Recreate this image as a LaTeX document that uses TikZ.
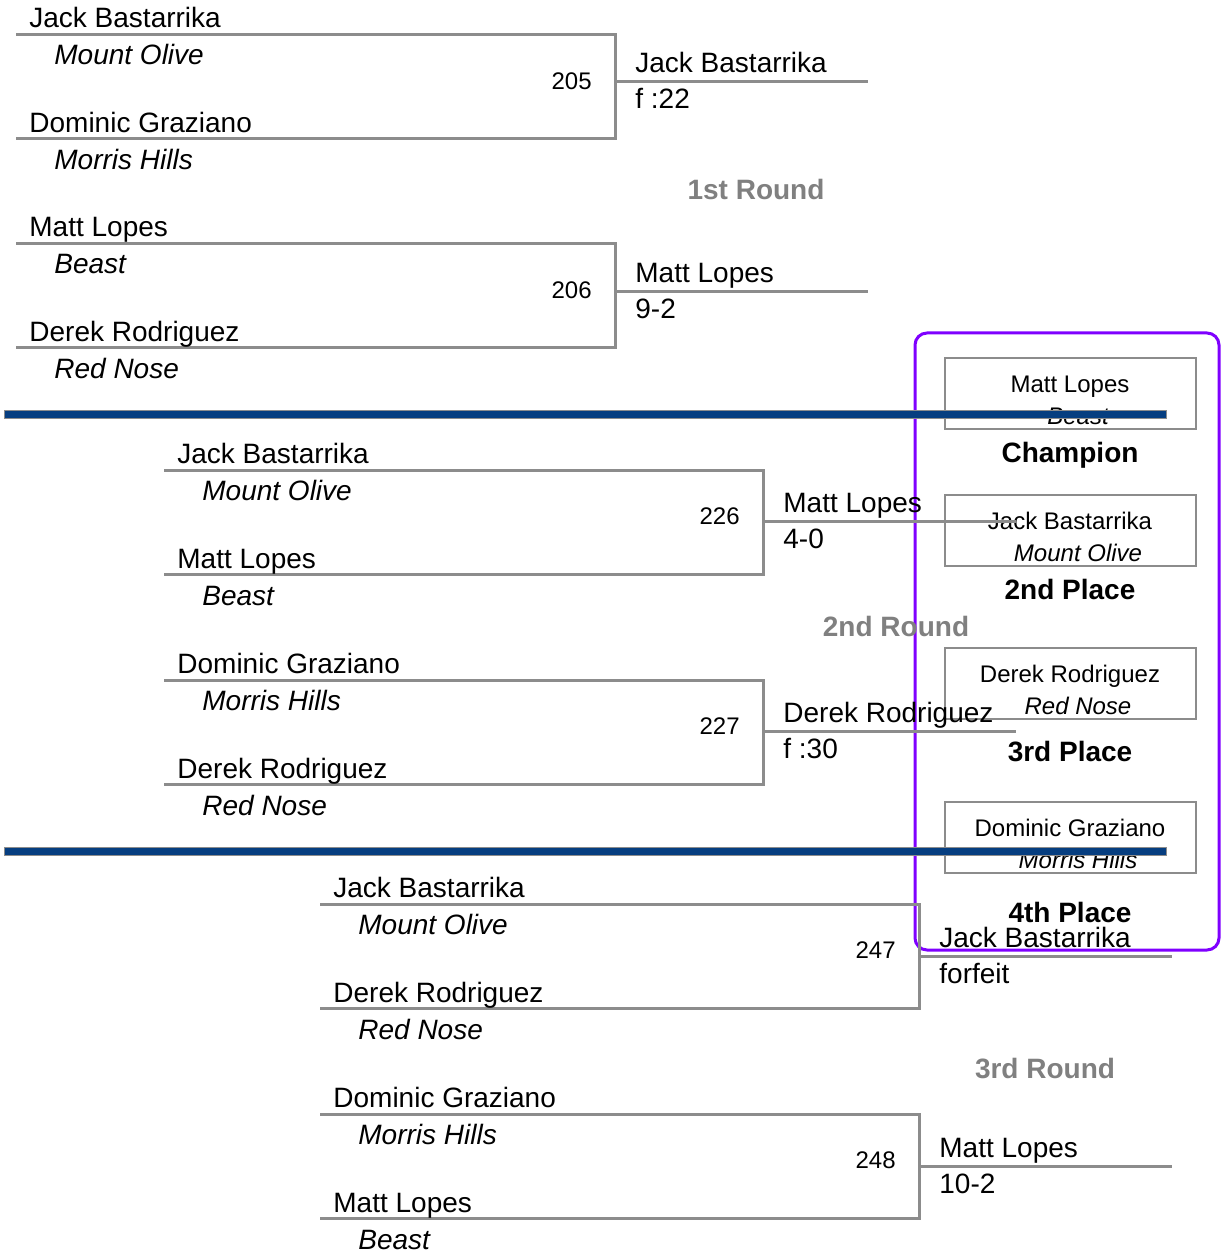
\documentclass[tikz,border=0pt]{standalone}
\usepackage{fontspec}
\setmainfont{Liberation Sans}
\usetikzlibrary{positioning}
\definecolor{linegrey}{RGB}{140,140,140}
\definecolor{roundgrey}{RGB}{128,128,128}
\definecolor{sepblue}{RGB}{6,62,128}
\definecolor{panelviolet}{RGB}{127,0,255}

\begin{document}
\begin{tikzpicture}[
  x=0.5pt, y=-0.5pt,
  bout/.style     = {draw=linegrey, line width=1.5pt},
  wrestler/.style = {anchor=base west, inner sep=0pt, font=\fontsize{14}{16}\selectfont},
  school/.style   = {wrestler, font=\fontsize{14}{16}\selectfont\itshape},
  boutno/.style   = {anchor=base east, inner sep=0pt, font=\fontsize{12}{14}\selectfont},
  roundlbl/.style = {anchor=base, inner sep=0pt, text=roundgrey, font=\fontsize{14}{16}\selectfont\bfseries},
  placebox/.style = {draw=linegrey, line width=1pt, minimum width=125.5pt, minimum height=35.5pt, inner sep=0pt},
  boxtext/.style  = {anchor=base, inner sep=0pt, font=\fontsize{12}{14}\selectfont},
  placelbl/.style = {anchor=base, inner sep=0pt, font=\fontsize{14}{16}\selectfont\bfseries},
  sepbar/.style   = {fill=sepblue, draw=linegrey, line width=0.5pt},
  panel/.style    = {draw=panelviolet, line width=1.5pt, rounded corners=6pt},
  ]
  \useasboundingbox (0,0) rectangle (1220,1256);

  % Final standings
  \foreach \top/\nm/\sc/\lab/\ly [count=\i] in {%
    358/Matt Lopes/Beast/Champion/462,%
    495/Jack Bastarrika/Mount Olive/2nd Place/599,%
    648/Derek Rodriguez/Red Nose/3rd Place/761,%
    802/Dominic Graziano/Morris Hills/4th Place/922}
  {
    \node (pbox\i) at (1070.5,\top+35.5) [placebox] {};
    \node (pname\i) at (1070,\top+34.5) [boxtext] {\nm};
    \node (pschool\i) at (1078,\top+66.5) [boxtext, font=\fontsize{12}{14}\selectfont\itshape] {\sc};
    \node (plbl\i) at (1070,\ly) [placelbl] {\lab};
  }
  \draw[panel] (915,333) rectangle (1219,950);

  % Bouts
  \foreach \dx/\dy/\wy/\id/\na/\sa/\nb/\sb/\nw/\res in {%
    16/35/47/205/Jack Bastarrika/Mount Olive/Dominic Graziano/Morris Hills/Jack Bastarrika/f :22,%
    16/244/48/206/Matt Lopes/Beast/Derek Rodriguez/Red Nose/Matt Lopes/9-2,%
    164/470/51/226/Jack Bastarrika/Mount Olive/Matt Lopes/Beast/Matt Lopes/4-0,%
    164/680/51/227/Dominic Graziano/Morris Hills/Derek Rodriguez/Red Nose/Derek Rodriguez/f :30,%
    320/904/52/247/Jack Bastarrika/Mount Olive/Derek Rodriguez/Red Nose/Jack Bastarrika/forfeit,%
    320/1114/52/248/Dominic Graziano/Morris Hills/Matt Lopes/Beast/Matt Lopes/10-2}
  {
    \begin{scope}[shift={(\dx,\dy)}]
      \coordinate (ta\id) at (0,0);
      \coordinate (tb\id) at (599,0);
      \coordinate (bb\id) at (599,104);
      \coordinate (ba\id) at (0,104);
      \coordinate (wa\id) at (599,\wy);
      \coordinate (wb\id) at (852,\wy);
      \draw[bout] (ta\id) -- (tb\id) -- (bb\id) -- (ba\id);
      \draw[bout] (wa\id) -- (wb\id);
      \node (na\id) at (13,-7)  [wrestler] {\na};
      \node (sa\id) at (38,30)  [school]   {\sa};
      \node (nb\id) at (13,98)  [wrestler] {\nb};
      \node (sb\id) at (38,135) [school]   {\sb};
      \node (no\id) at (576,54.5) [boutno] {\id};
      \node (nw\id) at (619,\wy-9)  [wrestler] {\nw};
      \node (rs\id) at (619,\wy+27) [wrestler] {\res};
    \end{scope}
  }

  % Round labels
  \node (r1) at (756,200)  [roundlbl] {1st Round};
  \node (r2) at (896,636)  [roundlbl] {2nd Round};
  \node (r3) at (1045,1078) [roundlbl] {3rd Round};

  % Separators
  \foreach \sy in {415,851}
    \draw[sepbar] (4,\sy-4) rectangle (1166,\sy+4);
\end{tikzpicture}
\end{document}
